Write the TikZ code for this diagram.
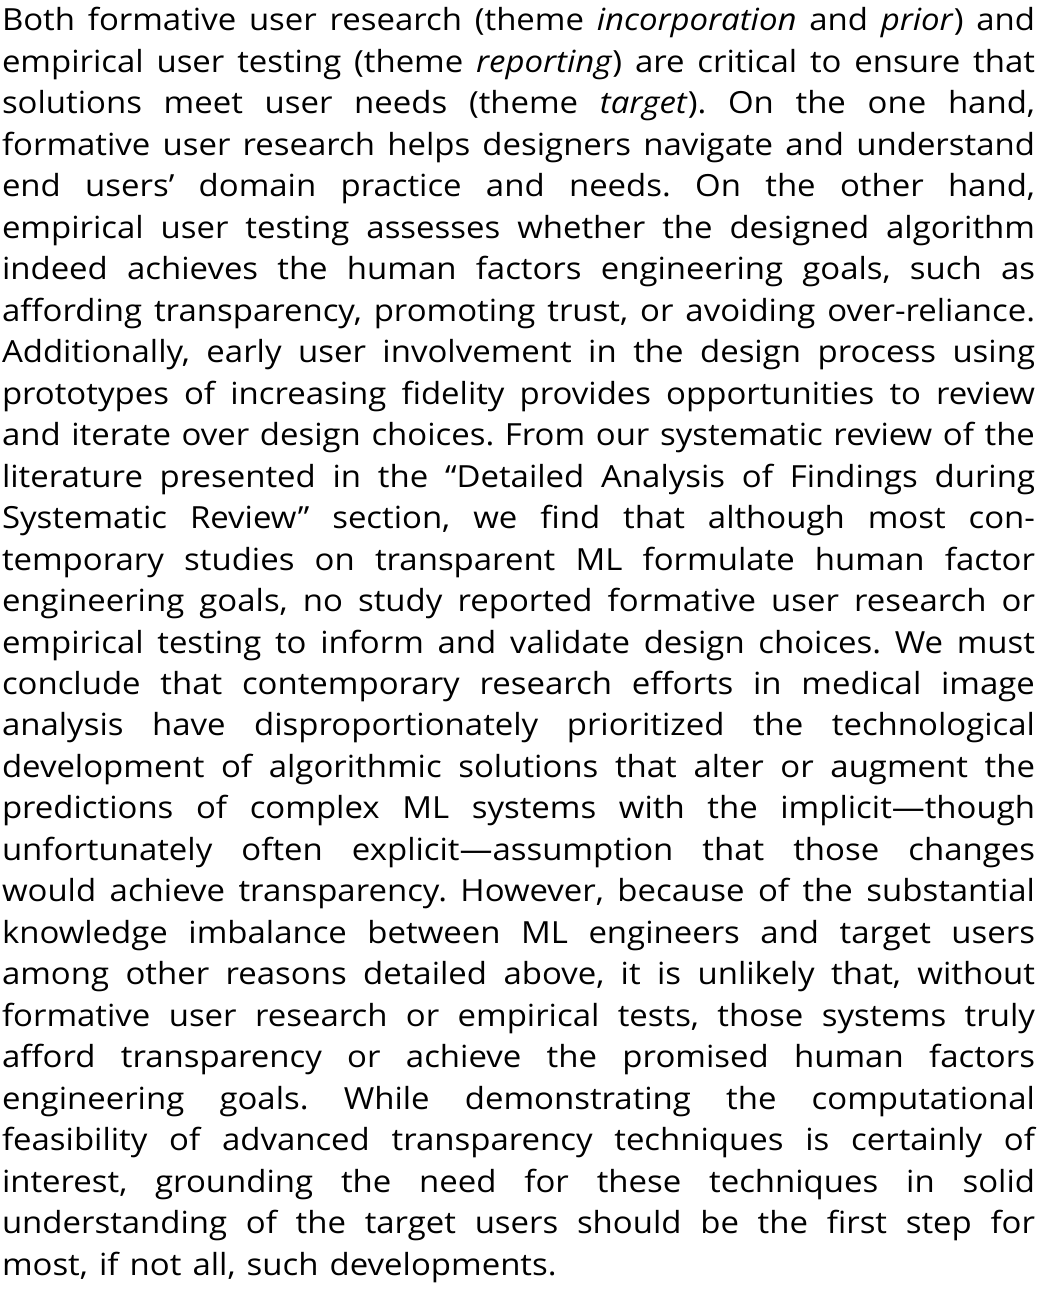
\documentclass[tikz,border=0pt]{standalone}
\usepackage{fontspec}
\setmainfont[FakeStretch=1.08,WordSpace=1.3]{Open Sans}
\newlength{\du}
\setlength{\du}{1pt}
\frenchspacing

\begin{document}
\begin{tikzpicture}
\tikzset{
  textline/.style={anchor=base west,inner sep=0pt,outer sep=0pt,
    font=\fontsize{30.5}{40}\selectfont},
}
\useasboundingbox (0,0) rectangle (1038\du,-1289\du);
% justified lines, one node each
\foreach \txt [count=\i, evaluate=\i as \yy using -31-41.47*(\i-1)] in {
{Both formative user research (theme \textit{incorporation} and \textit{prior}) and},
{empirical user testing (theme \textit{reporting}) are critical to ensure that},
{solutions meet user needs (theme \textit{target}). On the one hand,},
{formative user research helps designers navigate and understand},
{end users' domain practice and needs. On the other hand,},
{empirical user testing assesses whether the designed algorithm},
{indeed achieves the human factors engineering goals, such as},
{affording transparency, promoting trust, or avoiding over-reliance.},
{Additionally, early user involvement in the design process using},
{prototypes of increasing fidelity provides opportunities to review},
{and iterate over design choices. From our systematic review of the},
{literature presented in the ``Detailed Analysis of Findings during},
{Systematic Review'' section, we find that although most con-},
{temporary studies on transparent ML formulate human factor},
{engineering goals, no study reported formative user research or},
{empirical testing to inform and validate design choices. We must},
{conclude that contemporary research efforts in medical image},
{analysis have disproportionately prioritized the technological},
{development of algorithmic solutions that alter or augment the},
{predictions of complex ML systems with the implicit---though},
{unfortunately often explicit---assumption that those changes},
{would achieve transparency. However, because of the substantial},
{knowledge imbalance between ML engineers and target users},
{among other reasons detailed above, it is unlikely that, without},
{formative user research or empirical tests, those systems truly},
{afford transparency or achieve the promised human factors},
{engineering goals. While demonstrating the computational},
{feasibility of advanced transparency techniques is certainly of},
{interest, grounding the need for these techniques in solid},
{understanding of the target users should be the first step for}}
  \node[textline] (l\i) at (2\du,\yy\du) {\makebox[1033\du][s]{\txt}};
% last line, not justified
\node[textline] (l31) at (2\du,-1275.1\du) {most, if not all, such developments.};
\end{tikzpicture}
\end{document}
